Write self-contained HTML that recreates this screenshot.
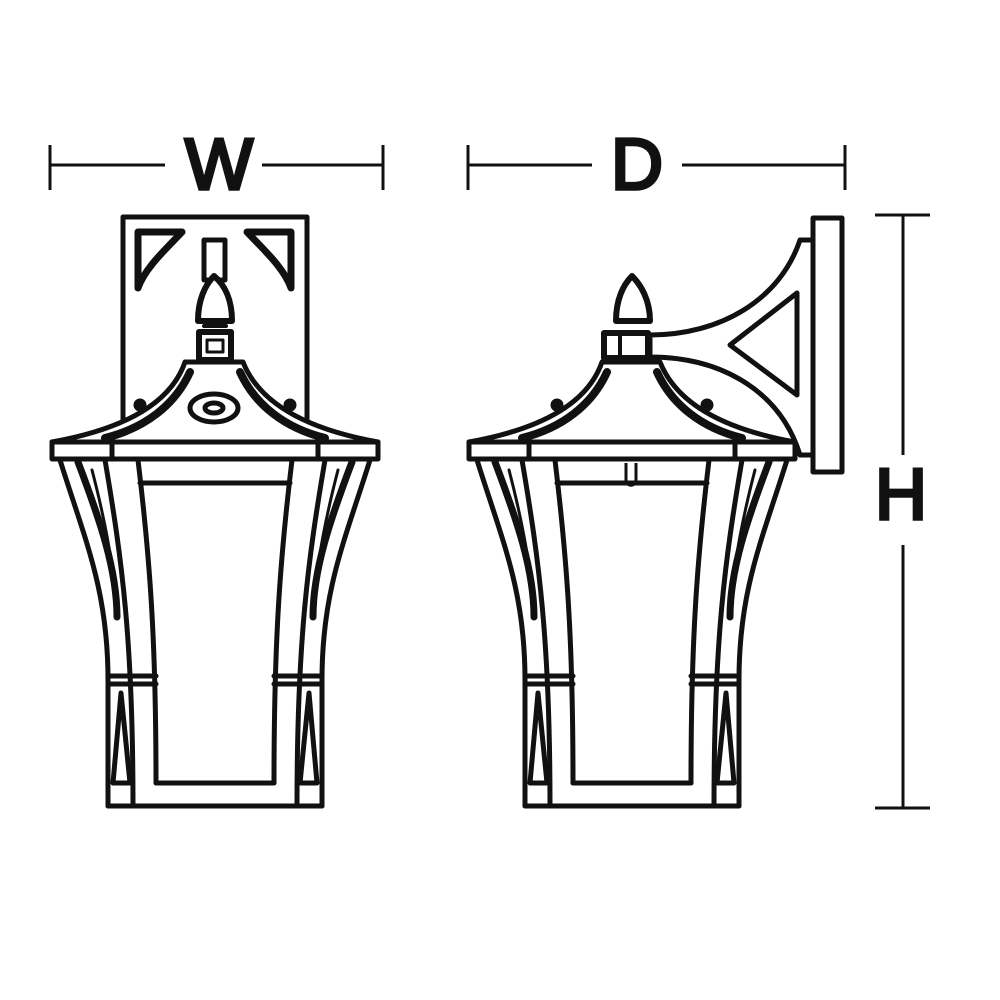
<!DOCTYPE html>
<html><head><meta charset="utf-8"><style>
html,body{margin:0;padding:0;background:#fff;width:1000px;height:1000px;overflow:hidden}
svg{display:block}
text{font-family:"Liberation Sans",sans-serif;font-weight:normal;fill:#111;stroke:#111;stroke-width:3.5}
</style></head><body>
<svg width="1000" height="1000" viewBox="0 0 1000 1000" xmlns="http://www.w3.org/2000/svg">
<defs>
<g id="body" fill="none" stroke="#111" stroke-width="5" stroke-linejoin="round" stroke-linecap="round">
  <path d="M60,460 C85,540 108,590 108,680 L108,806"/>
  <path d="M105,460 C122,560 133,640 133,806"/>
  <path d="M138,460 C150,560 156,640 156,783"/>
  <path d="M78,462 C100,520 117,570 117,617" stroke-width="7"/>
  <path d="M92,470 C105,520 115,570 117,617" stroke-width="3"/>
  <path d="M370,460 C345,540 322,590 322,680 L322,806"/>
  <path d="M325,460 C308,560 297,640 297,806"/>
  <path d="M292,460 C280,560 274,640 274,783"/>
  <path d="M352,462 C330,520 313,570 313,617" stroke-width="7"/>
  <path d="M338,470 C325,520 315,570 313,617" stroke-width="3"/>
  <path d="M140,483 L290,483"/>
  <path d="M156,783 L274,783"/>
  <path d="M108,806 L322,806"/>
  <path d="M108,676 L156,676 M108,684 L156,684 M274,676 L322,676 M274,684 L322,684"/>
  <path d="M121,693 L113,783 L130,783 Z" stroke-width="5"/>
  <path d="M309,693 L317,783 L300,783 Z" stroke-width="5"/>
  <rect x="52" y="442" width="326" height="17" fill="#fff"/>
  <path d="M112,442 L112,459 M318,442 L318,459"/>
  <path d="M185,362 L243,362 C258,400 300,428 378,442 L52,442 C130,428 172,400 185,362 Z" fill="#fff"/>
  <path d="M190,372 C175,405 145,428 105,438" stroke-width="8"/>
  <path d="M240,372 C255,405 285,428 325,438" stroke-width="8"/>
  <path d="M180,385 C165,410 140,428 110,436" stroke-width="2"/>
  <path d="M250,385 C265,410 290,428 320,436" stroke-width="2"/>
  <circle cx="140" cy="405" r="4" fill="#111"/>
  <circle cx="290" cy="405" r="4" fill="#111"/>
</g>
</defs>

<g stroke="#111" stroke-width="3" fill="none">
  <path d="M50,165 L165,165 M262,165 L383,165 M50,145 L50,190 M383,145 L383,190"/>
  <path d="M468,165 L592,165 M682,165 L845,165 M468,145 L468,190 M845,145 L845,190"/>
  <path d="M903,215 L903,455 M903,545 L903,808 M875,215 L930,215 M875,808 L930,808"/>
</g>
<text x="219" y="189" font-size="72" text-anchor="middle">W</text>
<text x="637" y="189" font-size="72" text-anchor="middle">D</text>
<text x="901" y="519" font-size="72" text-anchor="middle">H</text>

<g fill="none" stroke="#111" stroke-width="5" stroke-linejoin="round" stroke-linecap="round">
  <rect x="123" y="217" width="184" height="230" fill="#fff"/>
  <path d="M138,232 L182,232 C165,250 145,268 138,288 Z" stroke-width="7"/>
  <path d="M291,232 L247,232 C264,250 284,268 291,288 Z" stroke-width="7"/>
  <rect x="204" y="240" width="21" height="40" fill="#fff"/>
  <path d="M214,276 C205,285 198,300 198,321 L232,321 C232,300 225,285 214,276 Z" fill="#fff" stroke-width="6"/>
  <rect x="199" y="332" width="32" height="28" fill="#fff" stroke-width="6"/>
  <rect x="207" y="340" width="16" height="12" stroke-width="3"/>
  <path d="M204,326 L226,326" stroke-width="4"/>
</g>
<use href="#body"/>
<g fill="none" stroke="#111" stroke-width="5">
  <ellipse cx="214" cy="408" rx="24" ry="14"/>
  <ellipse cx="214" cy="408" rx="9" ry="5"/>
</g>

<g fill="none" stroke="#111" stroke-width="5" stroke-linejoin="round" stroke-linecap="round">
  <rect x="813" y="218" width="29" height="254" fill="#fff"/>
  <path d="M813,240 L800,240 C780,300 720,335 650,335 L650,357 C720,357 780,390 800,455 L813,455"/>
  <path d="M730,345 L797,293 L797,395 Z"/>
  <path d="M632,276 C623,285 616,300 616,321 L650,321 C650,300 641,285 632,276 Z" fill="#fff" stroke-width="6"/>
  <rect x="604" y="333" width="44" height="25" fill="#fff" stroke-width="6"/>
  <path d="M620,333 L620,358" stroke-width="4"/>
</g>
<use href="#body" transform="translate(417,0)"/>
<path d="M626,463 L626,480 C626,487 636,487 636,480 L636,463" fill="none" stroke="#111" stroke-width="3"/>
</svg>
</body></html>
